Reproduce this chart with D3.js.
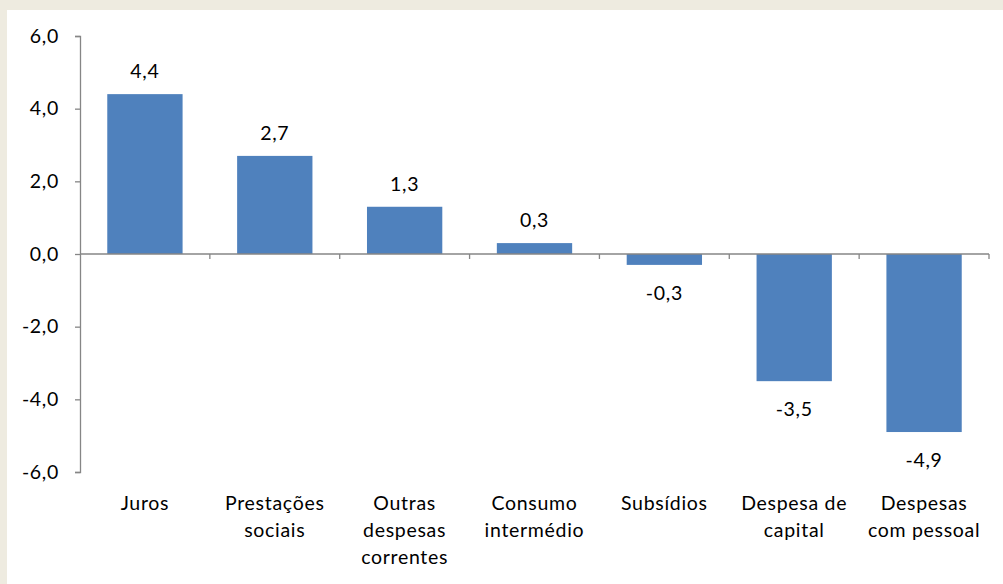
<!DOCTYPE html>
<html>
<head>
<meta charset="utf-8">
<script src="https://cdn.jsdelivr.net/npm/d3@7"></script>
<style>
  html, body { margin: 0; padding: 0; background: #eeebe0; }
  svg { display: block; }
  text { font-family: Lato, "Open Sans", sans-serif; fill: #000; letter-spacing: 0.7px; }
</style>
</head>
<body>
<svg id="chart" width="1003" height="584"></svg>
<script>
// data
const categories = [
  ['Juros'],
  ['Prestações', 'sociais'],
  ['Outras', 'despesas', 'correntes'],
  ['Consumo', 'intermédio'],
  ['Subsídios'],
  ['Despesa de', 'capital'],
  ['Despesas', 'com pessoal'],
]
const values = [4.4, 2.7, 1.3, 0.3, -0.3, -3.5, -4.9]
const yTicks = [-6, -4, -2, 0, 2, 4, 6]
const title = 'Contributos para a variação (em p. p.)'

//
// layout
//
const W = 1003
const H = 584
const FONT_SIZE = '19.5px'
const BAR_COLOR = '#4f81bd'
const AXIS_COLOR = '#868686'
const fmt = (v) => d3.format('.1f')(v).replace('.', ',').replace('−', '-')

const svg = d3.select('#chart')

// white plot panel
svg.append('rect')
  .attr('x', 7).attr('y', 10)
  .attr('width', W - 7).attr('height', H - 10)
  .attr('fill', '#fff')

// title, mostly cut off at the top
svg.append('text')
  .attr('x', 472).attr('y', -3)
  .attr('text-anchor', 'middle')
  .style('font-size', FONT_SIZE)
  .text(title)

const x = d3.scaleBand()
  .domain(d3.range(categories.length))
  .range([80, 989])
  .paddingInner(0.42)
  .paddingOuter(0.21)

const y = d3.scaleLinear()
  .domain([-6, 6])
  .range([472, 36])

// bars
svg.append('g')
  .selectAll('rect')
  .data(values)
  .join('rect')
  .attr('x', (d, i) => x(i))
  .attr('width', x.bandwidth())
  .attr('y', (d) => y(Math.max(0, d)))
  .attr('height', (d) => Math.abs(y(d) - y(0)))
  .attr('fill', BAR_COLOR)

// y axis
const yAxis = svg.append('g')
  .attr('transform', 'translate(80,0)')
  .call(d3.axisLeft(y).tickValues(yTicks).tickSize(5).tickPadding(16).tickFormat(fmt))
yAxis.select('.domain').attr('stroke', AXIS_COLOR).attr('stroke-width', 1.3)
yAxis.selectAll('.tick line').attr('stroke', AXIS_COLOR).attr('stroke-width', 1.3)
yAxis.selectAll('.tick text')
  .style('font-size', FONT_SIZE)
  .style('font-family', 'Lato, "Open Sans", sans-serif')
  .attr('fill', '#000')

// x axis at zero, ticks between categories
const boundaries = d3.range(categories.length + 1).map((i) => 80 + i * x.step())
svg.append('line')
  .attr('x1', 80).attr('x2', 989)
  .attr('y1', y(0)).attr('y2', y(0))
  .attr('stroke', AXIS_COLOR).attr('stroke-width', 1.5)
svg.append('g')
  .selectAll('line')
  .data(boundaries.slice(1))
  .join('line')
  .attr('x1', (d) => d).attr('x2', (d) => d)
  .attr('y1', y(0)).attr('y2', y(0) + 5)
  .attr('stroke', AXIS_COLOR).attr('stroke-width', 1.3)

// value labels
svg.append('g')
  .selectAll('text')
  .data(values)
  .join('text')
  .attr('x', (d, i) => x(i) + x.bandwidth() / 2)
  .attr('y', (d) => d >= 0 ? y(d) - 16 : y(d) + 35)
  .attr('text-anchor', 'middle')
  .style('font-size', FONT_SIZE)
  .text(fmt)

// category labels
const labels = svg.append('g')
  .selectAll('text')
  .data(categories)
  .join('text')
  .attr('x', (d, i) => x(i) + x.bandwidth() / 2)
  .attr('y', 510)
  .attr('text-anchor', 'middle')
  .style('font-size', FONT_SIZE)
labels.selectAll('tspan')
  .data((d) => d)
  .join('tspan')
  .attr('x', function () { return this.parentNode.getAttribute('x') })
  .attr('dy', (d, i) => i === 0 ? 0 : 27)
  .text((d) => d)
</script>
</body>
</html>
